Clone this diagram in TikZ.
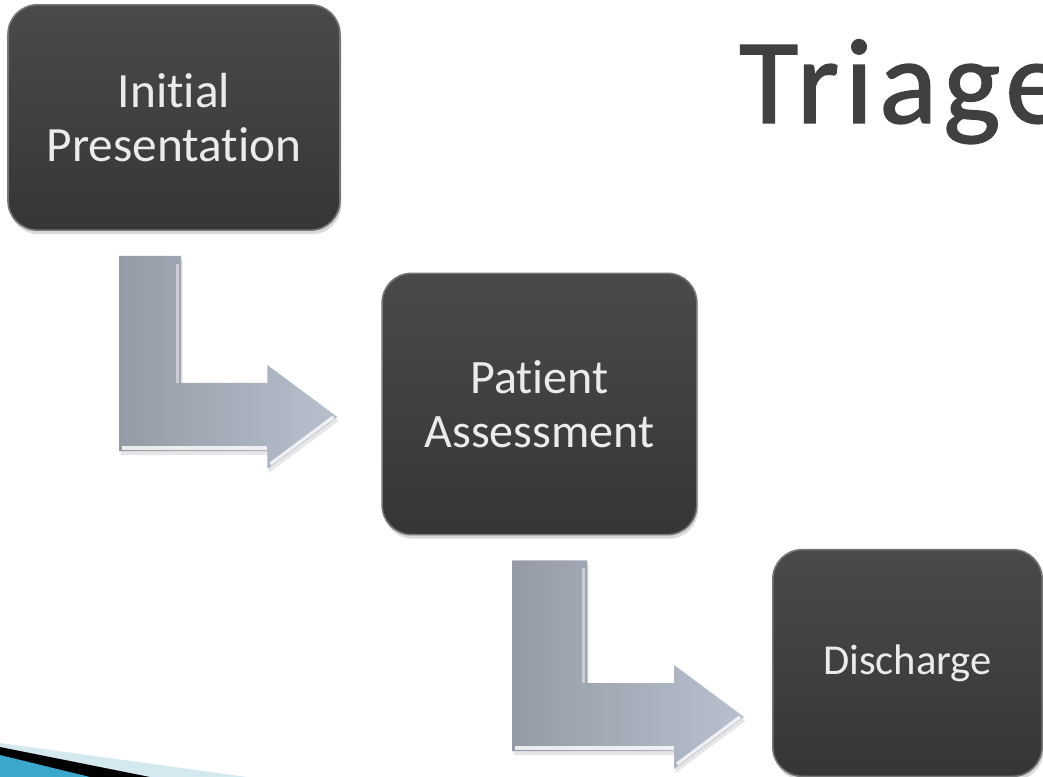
\documentclass[tikz,border=0pt]{standalone}
\usepackage{fontspec}
\setmainfont{Carlito}[Ligatures=NoCommon]
\newfontfamily\titlefont{Carlito}[Ligatures=NoCommon, FakeBold=1.2, LetterSpace=5]
\usetikzlibrary{calc,shadows}

\definecolor{boxtop}{HTML}{4A4A4A}
\definecolor{boxbot}{HTML}{363636}
\definecolor{boxedge}{HTML}{767676}
\definecolor{arrowdark}{HTML}{959BA6}
\definecolor{arrowlite}{HTML}{B8C0CE}
\definecolor{titlegray}{HTML}{404040}
\definecolor{swooshlite}{HTML}{D4E8F0}
\definecolor{swooshblue}{HTML}{3BA7CC}

\tikzset{
  stepbox/.style={rectangle, rounded corners=22pt, top color=boxtop, bottom color=boxbot,
    draw=boxedge, line width=1.2pt, text=white!92!black, align=center, inner sep=0pt,
    drop shadow={shadow xshift=1pt, shadow yshift=-3pt, opacity=0.3}},
  arrowbody/.style={left color=arrowdark, right color=arrowlite,
    drop shadow={shadow xshift=1pt, shadow yshift=-3pt, opacity=0.2}},
  arrowshine/.style={white, line width=2.5pt, opacity=0.8},
}

% bent block arrow: #1 top left of the shaft, #2 the tip, #3 shaft width
\newcommand{\bentarrow}[3]{%
  \coordinate (elbow) at (#1 |- #2);
  \shade[arrowbody] (#1) -- ($(#1)+(#3,0)$) -- ($(elbow)+(#3,-\armh)$) -- ($(#2)+(-\headl,-\armh)$)
    -- ($(#2)+(-\headl,-\headh)$) -- (#2) -- ($(#2)+(-\headl,\headh)$) -- ($(#2)+(-\headl,\armh)$)
    -- ($(elbow)+(0,\armh)$) -- cycle;
  \draw[arrowshine, opacity=0.45] ($(#1)+(#3-4,8)$) -- ($(elbow)+(#3-4,-\armh)$);
  \draw[arrowshine] ($(elbow)+(3,\armh-3)$) -- ($(#2)+(-\headl,\armh-3)$);
  \draw[arrowshine] ($(#2)+(-\headl+3,\headh-5)$) -- ($(#2)+(-4,0)$);
}

\begin{document}
\begin{tikzpicture}[x=0.75pt, y=-0.75pt]

\def \armh {34}
\def \headh {52}
\def \headl {70}

\useasboundingbox (0,0) rectangle (1043,777);
\clip (0,0) rectangle (1043,777);

% corner swoosh
\fill[swooshlite] (0,743) -- (247,777) -- (0,777) -- cycle;
\fill[black] (0,747) -- (150,777) -- (0,777) -- cycle;
\fill[swooshblue] (0,755) -- (90,777) -- (0,777) -- cycle;

\node[anchor=base west, inner sep=0pt, text=titlegray, font=\titlefont\fontsize{91}{91}\selectfont] (title) at (739,123) {Triage};

\node[stepbox, minimum width=249pt, minimum height=169pt, font=\fontsize{37}{40.5}\selectfont] (init) at (174,117.5) {Initial\\Presentation};
\node[stepbox, minimum width=236pt, minimum height=196pt, font=\fontsize{36}{41}\selectfont] (assess) at (539.5,404) {Patient\\Assessment};
\node[stepbox, minimum width=202pt, minimum height=170pt, font=\fontsize{32}{36}\selectfont] (disch) at (907.5,663) {Discharge};

\coordinate (a1s) at ([shift={(112,25)}]init.south west);
\coordinate (a1t) at ([shift={(-44,13)}]assess.west);
\coordinate (a2s) at ([shift={(131,25)}]assess.south west);
\coordinate (a2t) at ([shift={(-28,54)}]disch.west);

\bentarrow{a1s}{a1t}{62}
\bentarrow{a2s}{a2t}{75}

\end{tikzpicture}
\end{document}
